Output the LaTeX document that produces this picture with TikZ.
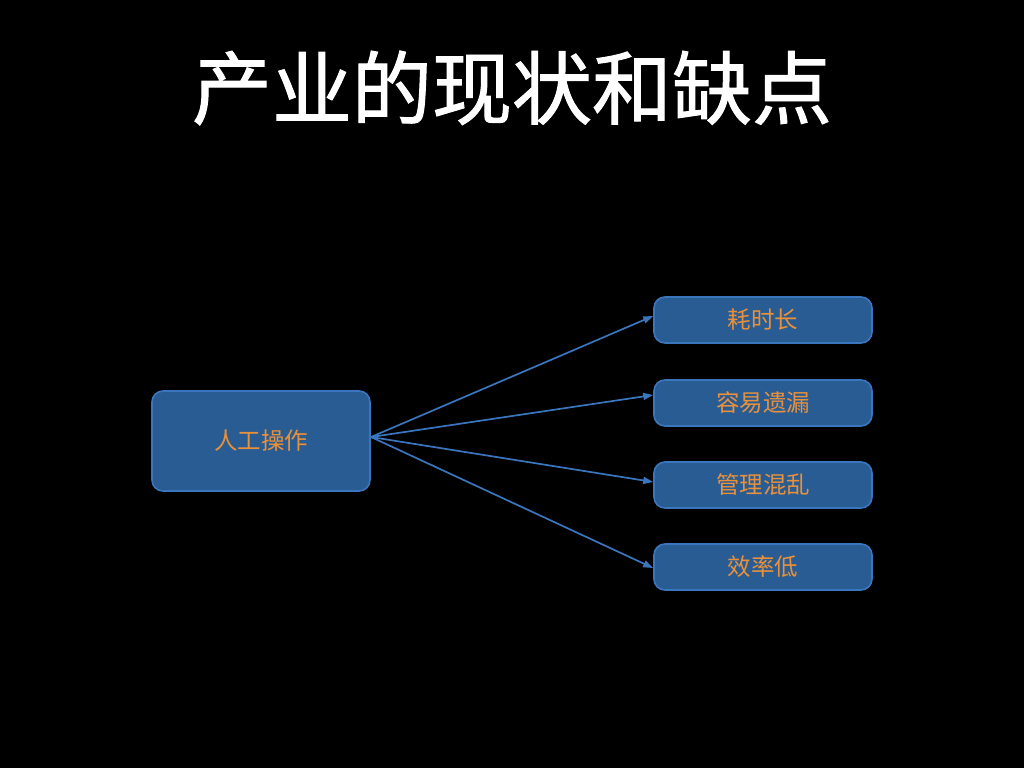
\documentclass[tikz,border=0pt]{standalone}
\usepackage{fontspec}
\setmainfont{Noto Sans CJK SC}
\newfontfamily\cjk{Noto Sans CJK SC}
\newfontfamily\cjktitle[FakeBold=1.2]{Noto Sans CJK SC}
\usetikzlibrary{arrows.meta}
\definecolor{boxfill}{HTML}{2A5C94}
\definecolor{boxline}{HTML}{3A76BE}
\definecolor{labeltext}{HTML}{E8913A}
\tikzset{
  x=1pt, y=-1pt,
  box/.style={draw=boxline, line width=1.6pt, fill=boxfill, rounded corners=11pt,
    font=\cjk\fontsize{23.5}{28}\selectfont, text=labeltext, inner sep=0pt},
  link/.style={draw=boxline, line width=1.7pt, -{Triangle[length=10pt,width=7pt]}}
}
\begin{document}
\begin{tikzpicture}
\fill[black] (0,0) rectangle (1024,768);
\useasboundingbox (0,0) rectangle (1024,768);
\node[text=white, font=\cjktitle\fontsize{80}{90}\selectfont] (title) at (512,88) {产业的现状和缺点};
\node[box, minimum width=218pt, minimum height=100pt] (src) at (261,441) {人工操作};
\node[box, minimum width=218pt, minimum height=46pt] (a) at (763,320) {耗时长};
\node[box, minimum width=218pt, minimum height=46pt] (b) at (763,403) {容易遗漏};
\node[box, minimum width=218pt, minimum height=46pt] (c) at (763,485) {管理混乱};
\node[box, minimum width=218pt, minimum height=46pt] (d) at (763,567) {效率低};
\coordinate (o) at (371,437);
\draw[link] (o) -- ([yshift=4pt]a.west);
\draw[link] (o) -- ([yshift=8pt]b.west);
\draw[link] (o) -- ([yshift=3pt]c.west);
\draw[link] (o) -- ([yshift=-1pt]d.west);
\end{tikzpicture}
\end{document}
